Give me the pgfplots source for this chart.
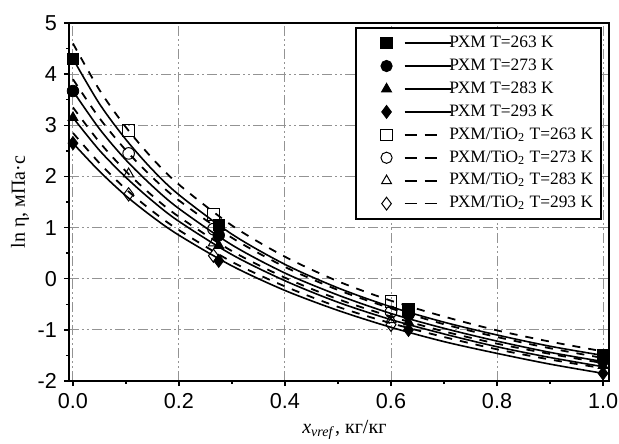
\documentclass[border=0pt]{standalone}
\usepackage{fontspec}
\setmainfont{Liberation Serif}
\newfontfamily\arial{Liberation Sans}
\usepackage{pgfplots}
\pgfplotsset{compat=1.18}

\pgfplotsset{
  leg/.style n args={5}{legend image code/.code={
    \path (-13pt,0pt) (29pt,0pt);
    \path[draw=black,fill=#2,line width=0.5pt,solid] plot[mark=#1,mark size=#4] coordinates {(0pt,0pt)};
    \draw[overlay,black,line width=0.8pt,#3] (9pt,0pt) -- (#5,0pt);}},
  curve/.style={black,line width=0.8pt,smooth,no marks},
  dcurve/.style={curve,line width=0.9pt,dash pattern=on 4pt off 4pt},
  fm/.style={only marks,mark=#1,mark size=2.9pt,draw=black,fill=black},
  om/.style={only marks,mark=#1,mark size=2.9pt,draw=black,fill=white,line width=0.5pt},
}

\begin{document}
\begin{tikzpicture}
\begin{axis}[
  name=ax, scale only axis, width=270pt, height=179pt,
  xmin=-0.0075, xmax=1.0113, ymin=-2, ymax=5,
  xtick={0,0.2,0.4,0.6,0.8,1.0},
  minor xtick={0.1,0.3,0.5,0.7,0.9},
  ytick={-2,-1,0,1,2,3,4,5},
  minor ytick={-1.5,-0.5,0.5,1.5,2.5,3.5,4.5},
  xticklabel style={/pgf/number format/.cd,fixed,fixed zerofill,precision=1},
  tick label style={font=\arial\fontsize{10.8}{12}\selectfont},
  /pgf/number format/assume math mode=true,
  tick align=outside, tick pos=left,
  major tick length=2.5pt, minor tick length=1.6pt,
  every tick/.style={black,line width=0.7pt},
  axis line style={line width=0.9pt},
  grid=major,
  major grid style={gray!85,line width=0.5pt,dash pattern=on 5pt off 1.5pt on 1pt off 1.5pt on 1pt off 1.5pt},
  xlabel={\textit{x}\textsubscript{\textit{vref}}, кг/кг},
  ylabel={ln η, мПа·с},
  label style={font=\fontsize{12.5}{14}\selectfont},
  every axis x label/.style={at={(axis description cs:0.51,0)},anchor=base,yshift=-26pt},
  every axis y label/.style={at={(axis description cs:-0.0907,0.5)},anchor=center,rotate=90},
  legend style={at={(0.987,0.989)},anchor=north east,font=\fontsize{8.7}{10}\selectfont,
    line width=0.9pt,draw=black,row sep=0.2pt,inner sep=2pt},
  legend cell align=left,
]
% fitted curves, PXM (solid)
\addplot[curve,forget plot] table {
0 4.30
0.05 3.42
0.1 2.72
0.15 2.13
0.2 1.64
0.3 0.87
0.4 0.28
0.5 -0.18
0.6 -0.55
0.7 -0.85
0.8 -1.10
0.9 -1.32
1.0 -1.50
};
\addplot[curve,forget plot] table {
0 3.67
0.05 2.93
0.1 2.32
0.15 1.81
0.2 1.37
0.3 0.66
0.4 0.11
0.5 -0.32
0.6 -0.68
0.7 -0.97
0.8 -1.22
0.9 -1.44
1.0 -1.62
};
\addplot[curve,forget plot] table {
0 3.15
0.05 2.51
0.1 1.98
0.15 1.52
0.2 1.12
0.3 0.47
0.4 -0.04
0.5 -0.46
0.6 -0.80
0.7 -1.08
0.8 -1.33
0.9 -1.54
1.0 -1.72
};
\addplot[curve,forget plot] table {
0 2.65
0.05 2.10
0.1 1.62
0.15 1.21
0.2 0.85
0.3 0.25
0.4 -0.23
0.5 -0.62
0.6 -0.95
0.7 -1.23
0.8 -1.46
0.9 -1.67
1.0 -1.85
};
% fitted curves, PXM/TiO2 (dashed)
\addplot[dcurve,forget plot] table {
0 4.60
0.05 3.69
0.1 2.96
0.15 2.35
0.2 1.84
0.3 1.04
0.4 0.43
0.5 -0.05
0.6 -0.43
0.7 -0.74
0.8 -1.01
0.9 -1.23
1.0 -1.42
};
\addplot[dcurve,forget plot] table {
0 3.90
0.05 3.14
0.1 2.51
0.15 1.98
0.2 1.53
0.3 0.80
0.4 0.23
0.5 -0.22
0.6 -0.58
0.7 -0.89
0.8 -1.14
0.9 -1.36
1.0 -1.55
};
\addplot[dcurve,forget plot] table {
0 3.35
0.05 2.67
0.1 2.10
0.15 1.62
0.2 1.21
0.3 0.54
0.4 0.02
0.5 -0.40
0.6 -0.74
0.7 -1.03
0.8 -1.27
0.9 -1.47
1.0 -1.65
};
\addplot[dcurve,forget plot] table {
0 2.85
0.05 2.26
0.1 1.75
0.15 1.32
0.2 0.95
0.3 0.33
0.4 -0.15
0.5 -0.55
0.6 -0.87
0.7 -1.14
0.8 -1.38
0.9 -1.58
1.0 -1.75
};
% measured points, PXM/TiO2
\addplot[om=square,forget plot] coordinates {(0.105,2.90) (0.265,1.25) (0.600,-0.45)};
\addplot[om=o,forget plot] coordinates {(0.105,2.45) (0.265,0.97) (0.600,-0.65)};
\addplot[om=triangle,forget plot] coordinates {(0.105,2.05) (0.265,0.70) (0.600,-0.80)};
\addplot[om=diamond,mark size=3.3pt,forget plot] coordinates {(0.105,1.65) (0.265,0.45) (0.600,-0.90)};
% measured points, PXM
\addplot[fm=square*,forget plot] coordinates {(0,4.30) (0.275,1.05) (0.633,-0.60) (1.0,-1.50)};
\addplot[fm=*,forget plot] coordinates {(0,3.67) (0.275,0.85) (0.633,-0.70) (1.0,-1.60)};
\addplot[fm=triangle*,forget plot] coordinates {(0,3.15) (0.275,0.65) (0.633,-0.85) (1.0,-1.70)};
\addplot[fm=diamond*,mark size=3.3pt,forget plot] coordinates {(0,2.65) (0.275,0.35) (0.633,-1.00) (1.0,-1.85)};

\addlegendimage{leg={square*}{black}{solid}{2.8pt}{32pt}}
\addlegendentry{РХМ T=263 K}
\addlegendimage{leg={*}{black}{solid}{2.8pt}{32pt}}
\addlegendentry{РХМ T=273 K}
\addlegendimage{leg={triangle*}{black}{solid}{2.8pt}{32pt}}
\addlegendentry{РХМ T=283 K}
\addlegendimage{leg={diamond*}{black}{solid}{3.2pt}{32pt}}
\addlegendentry{РХМ T=293 K}
\addlegendimage{leg={square}{white}{dash pattern=on 6pt off 4pt}{2.8pt}{25pt}}
\addlegendentry{РХМ/TiO\textsubscript{2} T=263 K}
\addlegendimage{leg={o}{white}{dash pattern=on 6pt off 4pt}{2.8pt}{25pt}}
\addlegendentry{РХМ/TiO\textsubscript{2} T=273 K}
\addlegendimage{leg={triangle}{white}{dash pattern=on 6pt off 4pt}{2.8pt}{25pt}}
\addlegendentry{РХМ/TiO\textsubscript{2} T=283 K}
\addlegendimage{leg={diamond}{white}{dash pattern=on 6pt off 4pt}{3.2pt}{25pt}}
\addlegendentry{РХМ/TiO\textsubscript{2} T=293 K}
\end{axis}
\pgfresetboundingbox
\useasboundingbox ([xshift=-34.5pt,yshift=-31pt]ax.south west) rectangle ([xshift=5pt,yshift=11.5pt]ax.north east);
\end{tikzpicture}
\end{document}
